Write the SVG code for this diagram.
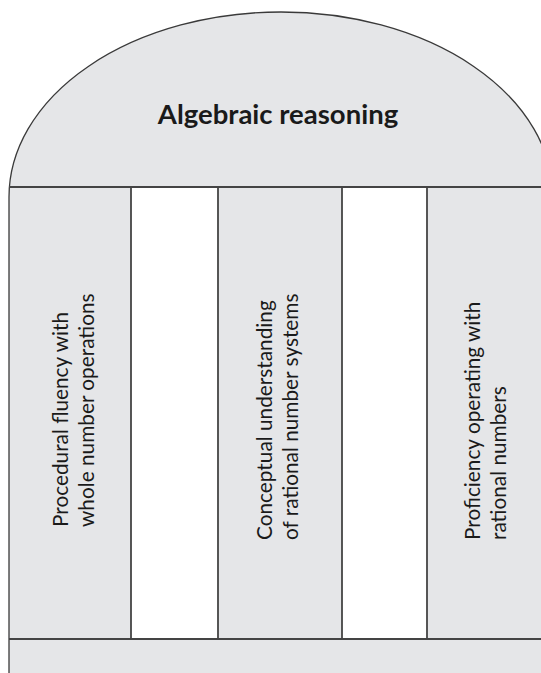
<svg xmlns="http://www.w3.org/2000/svg" width="541" height="673" viewBox="0 0 541 673">
  <style>
    .fill { fill: #e5e6e8; }
    .edge { fill: none; stroke: #3a3a3a; stroke-width: 1.3; }
    .div { stroke: #444; stroke-width: 1.8; }
    .title { font-family: Lato, "Open Sans", sans-serif; font-weight: bold; font-size: 27.5px; fill: #1a1a1a; text-anchor: middle; }
    .col { font-family: Lato, "Open Sans", sans-serif; font-size: 20.8px; fill: #1a1a1a; }
  </style>
  <rect width="541" height="673" fill="#ffffff"/>
  <g id="roof">
    <path class="fill" d="M9,673 L9,197 A272,185 0 0 1 553,197 L553,673 Z"/>
    <path class="edge" d="M9,673 L9,197 A272,185 0 0 1 553,197 L553,673"/>
    <text class="title" x="278" y="124">Algebraic reasoning</text>
  </g>
  <g id="gaps">
    <rect x="131" y="187" width="87" height="452" fill="#ffffff"/>
    <rect x="342" y="187" width="85" height="452" fill="#ffffff"/>
  </g>
  <g id="pillar1">
    <text class="col" transform="translate(68,527) rotate(-90)">Procedural fluency with</text>
    <text class="col" transform="translate(94,527) rotate(-90)">whole number operations</text>
  </g>
  <g id="pillar2">
    <text class="col" transform="translate(272,540) rotate(-90)">Conceptual understanding</text>
    <text class="col" transform="translate(298,540) rotate(-90)">of rational number systems</text>
  </g>
  <g id="pillar3">
    <text class="col" transform="translate(480,540) rotate(-90)">Proficiency operating with</text>
    <text class="col" transform="translate(506,540) rotate(-90)">rational numbers</text>
  </g>
  <g id="connectors">
    <line class="div" x1="9" y1="187" x2="541" y2="187"/>
    <line class="div" x1="9" y1="639" x2="541" y2="639"/>
    <line class="div" x1="131" y1="187" x2="131" y2="639"/>
    <line class="div" x1="218" y1="187" x2="218" y2="639"/>
    <line class="div" x1="342" y1="187" x2="342" y2="639"/>
    <line class="div" x1="427" y1="187" x2="427" y2="639"/>
  </g>
</svg>
